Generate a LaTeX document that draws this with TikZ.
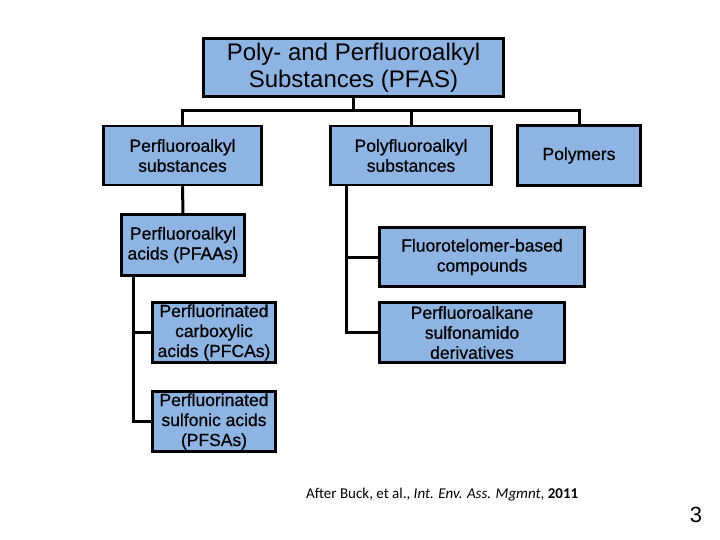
\documentclass[tikz,border=0pt]{standalone}
\usepackage{fontspec}
\setmainfont{Liberation Sans}
\newfontfamily\calibri{Carlito}
\newfontfamily\boxfont[FakeBold=0.6]{Liberation Sans}
\definecolor{boxblue}{HTML}{8EB4E3}
\tikzset{
    catbox/.style={draw=black, line width=2.5pt, fill=boxblue, align=center, inner sep=2pt,
        font=\boxfont\fontsize{17.5}{20}\selectfont},
    link/.style={line width=3pt}
}
\begin{document}
\begin{tikzpicture}[x=1pt, y=-1pt]
        \useasboundingbox (0,0) rectangle (720,540);
        \node[catbox, minimum width=300, minimum height=58, font=\fontsize{24}{27}\selectfont](pfas) at (353.5,67.5){Poly- and Perfluoroalkyl\\Substances (PFAS)};
        \node[catbox, minimum width=158, minimum height=59](perfluoro) at (182.5,155.5){Perfluoroalkyl\\substances};
        \node[catbox, minimum width=161, minimum height=59](polyfluoro) at (411,155.5){Polyfluoroalkyl\\substances};
        \node[catbox, minimum width=123, minimum height=60](polymers) at (579,155.5){Polymers};
        \node[catbox, minimum width=123, minimum height=61](pfaa) at (183,245){Perfluoroalkyl\\acids (PFAAs)};
        \node[catbox, minimum width=123, minimum height=60](pfca) at (214,332.5){Perfluorinated\\carboxylic\\acids (PFCAs)};
        \node[catbox, minimum width=123, minimum height=60](pfsa) at (214,421.5){Perfluorinated\\sulfonic acids\\(PFSAs)};
        \node[catbox, minimum width=205, minimum height=59](ftb) at (482,257){Fluorotelomer-based\\compounds};
        \node[catbox, minimum width=185, minimum height=60](fasa) at (472,332.5){Perfluoroalkane\\sulfonamido\\derivatives};
        % tree lines
        \draw[link](pfas.south)--++(0,13) coordinate(bus);
        \draw[link](perfluoro.north)|-(bus)-|(polymers.north);
        \draw[link](polyfluoro.north)--(polyfluoro.north|-bus);
        \draw[link](perfluoro.south)--(pfaa.north);
        \coordinate(leftbus) at ([xshift=13pt]pfaa.south west);
        \draw[link](leftbus)|-(pfsa.west);
        \draw[link](pfca.west)-|(leftbus);
        \coordinate(rightbus) at ([xshift=17pt]polyfluoro.south west);
        \draw[link](rightbus)|-(fasa.west);
        \draw[link](ftb.west)-|(rightbus);
        % source and page number
        \node[anchor=base west, inner sep=0pt, font=\calibri\fontsize{15}{17}\selectfont](source) at (306,498){After Buck, et al., \textit{Int. Env. Ass. Mgmnt}, \textbf{2011}};
        \node[inner sep=0pt, font=\fontsize{22}{24}\selectfont](page) at (696,515){3};
    \end{tikzpicture}
\end{document}
